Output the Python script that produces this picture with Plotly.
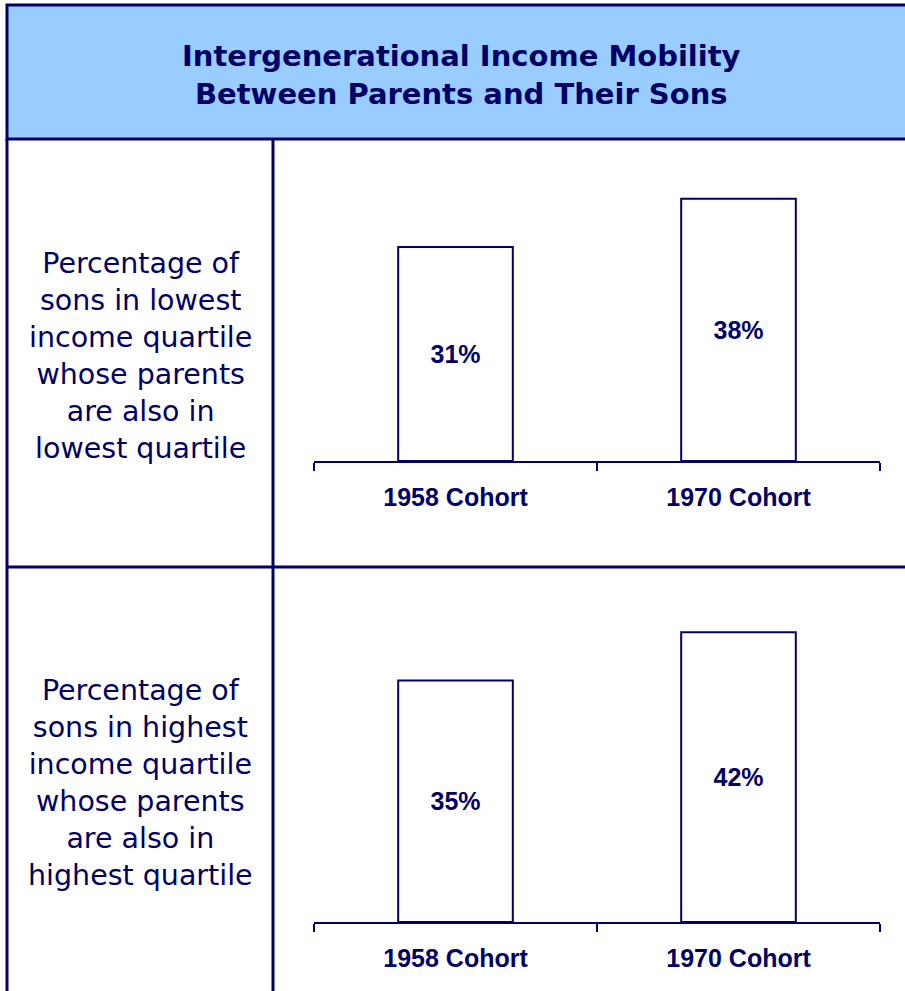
import plotly.graph_objects as go

# data
cohorts = ["1958 Cohort", "1970 Cohort"]
lowest_pct = [31, 38]
highest_pct = [35, 42]
row_labels = [
    "Percentage of<br>sons in lowest<br>income quartile<br>whose parents<br>are also in<br>lowest quartile",
    "Percentage of<br>sons in highest<br>income quartile<br>whose parents<br>are also in<br>highest quartile",
]
title_text = "Intergenerational Income Mobility<br>Between Parents and Their Sons"

W, H = 905, 991
NAVY = "#000066"


def px_x(x):
    return x / W


def px_y(y):
    return 1 - y / H


fig = go.Figure()

for i, vals in enumerate([lowest_pct, highest_pct]):
    fig.add_trace(go.Bar(
        x=cohorts, y=vals, width=0.405,
        marker=dict(color="white", line=dict(color=NAVY, width=2)),
        text=[f"<b>{v}%</b>" for v in vals],
        textposition="inside", insidetextanchor="middle",
        textfont=dict(family="Arial, Liberation Sans", size=25, color=NAVY),
        xaxis="x" if i == 0 else "x2", yaxis="y" if i == 0 else "y2",
        showlegend=False, hoverinfo="skip",
    ))

scale = 6.9  # px per percent
ax_common = dict(
    showline=True, linecolor=NAVY, linewidth=2,
    ticks="outside", tickson="boundaries", ticklen=8, tickcolor=NAVY, tickwidth=2,
    tickfont=dict(family="Arial, Liberation Sans", size=25, color=NAVY),
    ticklabelstandoff=13,
    range=[-0.5, 1.5], showgrid=False, zeroline=False,
    tickvals=cohorts, ticktext=[f"<b>{c}</b>" for c in cohorts],
)
x_dom = [px_x(314), px_x(880)]
fig.update_layout(
    width=W, height=H, margin=dict(l=0, r=0, t=0, b=0),
    paper_bgcolor="white", plot_bgcolor="white",
    xaxis=dict(domain=x_dom, anchor="y", **ax_common),
    xaxis2=dict(domain=x_dom, anchor="y2", **ax_common),
    yaxis=dict(domain=[px_y(461), px_y(461 - 42 * scale)], range=[0, 42], visible=False),
    yaxis2=dict(domain=[px_y(922), px_y(922 - 45 * scale)], range=[0, 45], visible=False),
)

shapes = [
    dict(type="rect", x0=px_x(7), x1=px_x(915), y0=px_y(5), y1=px_y(139),
         fillcolor="#99CCFF", line=dict(color=NAVY, width=3), layer="below"),
    dict(type="line", x0=px_x(7), x1=px_x(7), y0=px_y(139), y1=px_y(1000),
         line=dict(color=NAVY, width=3)),
    dict(type="line", x0=px_x(273), x1=px_x(273), y0=px_y(139), y1=px_y(1000),
         line=dict(color=NAVY, width=3)),
    dict(type="line", x0=px_x(7), x1=px_x(915), y0=px_y(567), y1=px_y(567),
         line=dict(color=NAVY, width=3)),
]
for s in shapes:
    s.update(xref="paper", yref="paper")
fig.update_layout(shapes=shapes)

fig.add_annotation(
    x=px_x(462), y=px_y(75), xref="paper", yref="paper", showarrow=False,
    xanchor="center", yanchor="middle",
    text=f"<b>{title_text}</b>", align="center",
    font=dict(family="DejaVu Sans", size=29, color=NAVY),
)
for lbl, yc in zip(row_labels, [356, 783]):
    fig.add_annotation(
        x=px_x(140), y=px_y(yc), xref="paper", yref="paper", showarrow=False,
        xanchor="center", yanchor="middle",
        text=lbl, align="center",
        font=dict(family="DejaVu Sans", size=28.5, color=NAVY),
    )

fig.write_html("out.html", config={"displayModeBar": False},
               post_script="document.body.style.margin='0';")
